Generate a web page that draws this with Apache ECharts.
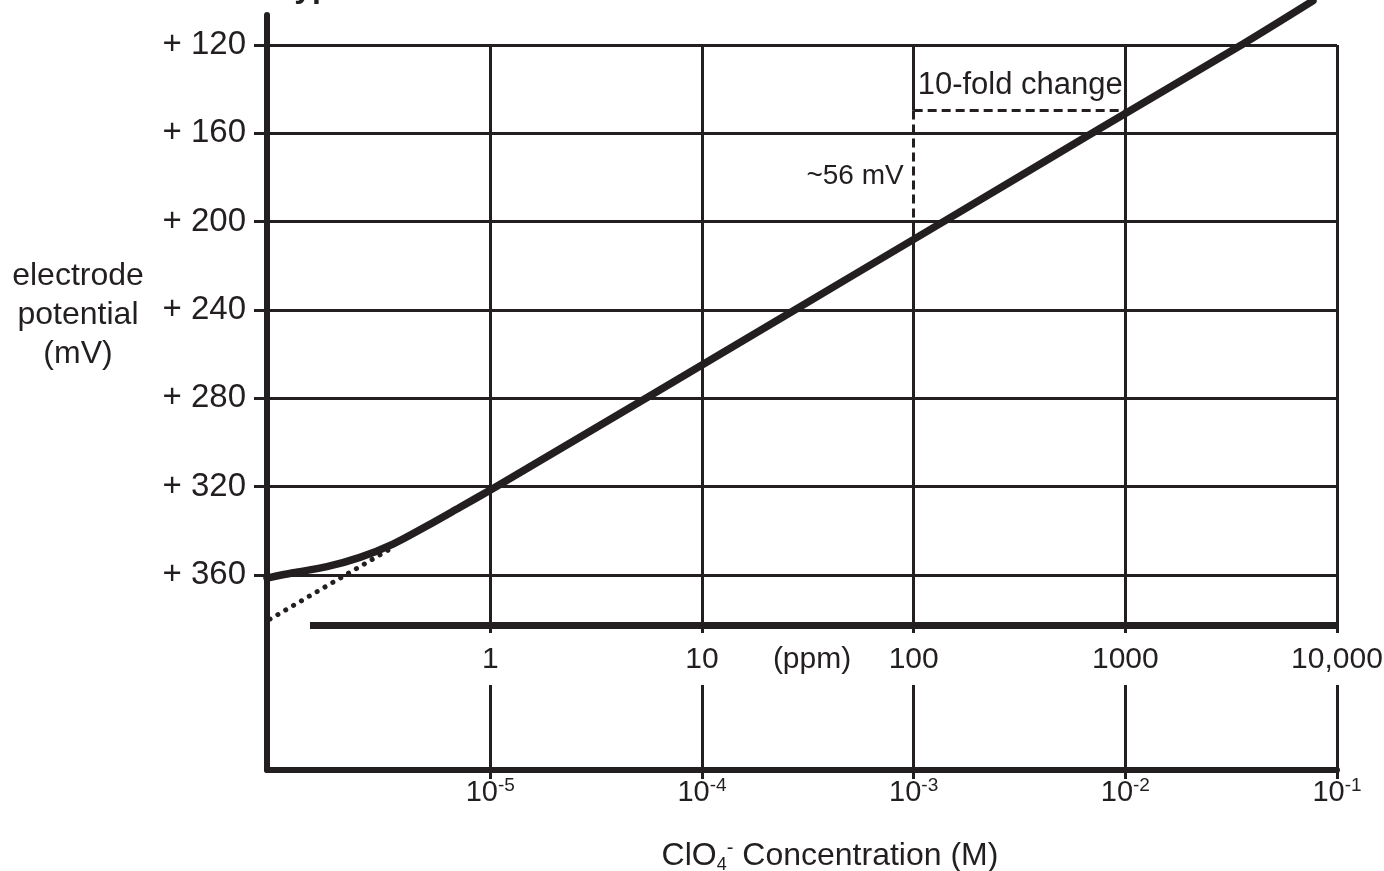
<!DOCTYPE html>
<html><head><meta charset="utf-8">
<script src="https://cdn.jsdelivr.net/npm/echarts@6/dist/echarts.min.js"></script>
<style>html,body{margin:0;padding:0;background:#fff}#c{width:1384px;height:871px}</style>
</head><body><div id="c"></div>
<script>
// ---- data (x = log10 of ClO4- molar concentration, y = electrode potential in mV) ----
const logConc     = [-6.055, -5.932, -5.772, -5.616, -5.460, -5.300, -5.143, -4.987, -4.827, -4.255, -3.570, -3.000, -2.120, -1.444, -1.114];
const potentialMV = [ 361.4,  359.0,  356.2,  352.0,  346.0,  337.8,  329.3,  320.8,  311.8,  279.4,  240.4,  208.0,  157.8,  119.5,  100.0];
const extrapLogConc = [-6.041, -5.47];
const extrapMV      = [380.0, 348.0];
const yTicks     = [120, 160, 200, 240, 280, 320, 360];
const decadeLogM = [-5, -4, -3, -2, -1];
const molarExp   = ['-5', '-4', '-3', '-2', '-1'];
const ppmLabels  = ['1', '10', '100', '1000', '10,000'];
const ppmUnitLabel = '(ppm)';
const ppmUnitLog = -3.48;
const foldStartLog = -3, foldEndLog = -2, foldMV = 149.6, slopeEndMV = 200;
const foldText = '10-fold change';
const slopeText = '~56 mV';

// ---- layout constants ----
const X_MIN = -6.055, X_MAX = -1, Y_MIN = 106.4, Y_MAX = 448.3;
const PPM_AXIS_MV = 382.6, PPM_AXIS_START = -5.852, GRID_TOP_END = 386.3, GRID_LOW_START = 409.8, PPM_LABEL_MV = 398.5;
const INK = '#231f20';
const FONT = '"Liberation Sans", Arial, Helvetica, sans-serif';

const curve = logConc.map((x, i) => [x, potentialMV[i]]);
const extrap = extrapLogConc.map((x, i) => [x, extrapMV[i]]);

const gridSegs = [];
yTicks.forEach(v => gridSegs.push({coords: [[X_MIN, v], [X_MAX, v]]}));
decadeLogM.forEach(x => {
  if (x === foldStartLog) {
    gridSegs.push({coords: [[x, yTicks[0]], [x, foldMV]]});
    gridSegs.push({coords: [[x, slopeEndMV], [x, GRID_TOP_END]]});
  } else {
    gridSegs.push({coords: [[x, yTicks[0]], [x, GRID_TOP_END]]});
  }
  gridSegs.push({coords: [[x, GRID_LOW_START], [x, Y_MAX]]});
});
const dashSegs = [
  {coords: [[foldStartLog, foldMV], [foldEndLog, foldMV]]},
  {coords: [[foldStartLog, foldMV], [foldStartLog, slopeEndMV]]}
];

const ppmPoints = decadeLogM.map((x, i) => ({value: [x, PPM_LABEL_MV], label: {formatter: ppmLabels[i]}}));
ppmPoints.push({value: [ppmUnitLog, PPM_LABEL_MV], label: {formatter: ppmUnitLabel}});

const chart = echarts.init(document.getElementById('c'), null, {renderer: 'canvas'});
chart.setOption({
  animation: false,
  backgroundColor: '#fff',
  textStyle: {fontFamily: FONT, color: INK},
  title: [
    {text: 'Typical Calibration Curve', left: 277, top: -28, padding: 0,
     textStyle: {fontFamily: FONT, fontSize: 32, fontWeight: 'bold', color: INK}},
    {text: 'electrode\npotential\n(mV)', left: 78, top: 257, padding: 0, textAlign: 'center',
     textStyle: {fontFamily: FONT, fontSize: 32, fontWeight: 'normal', color: INK, lineHeight: 39}},
    {text: 'ClO{sub|4}{sup|-} Concentration (M)', left: 830, top: 838, padding: 0, textAlign: 'center',
     textStyle: {fontFamily: FONT, fontSize: 32, fontWeight: 'normal', color: INK, lineHeight: 36,
       rich: {sub: {fontFamily: FONT, fontSize: 18, color: INK, lineHeight: 14, verticalAlign: 'bottom'},
              sup: {fontFamily: FONT, fontSize: 20, color: INK, lineHeight: 22, verticalAlign: 'top'}}}}
  ],
  grid: {left: 267, right: 47, top: 15, bottom: 101, containLabel: false},
  xAxis: {
    type: 'value', min: X_MIN, max: X_MAX,
    axisLine: {show: true, lineStyle: {color: INK, width: 6}},
    axisTick: {show: true, customValues: decadeLogM, length: 9, lineStyle: {color: INK, width: 3}},
    splitLine: {show: false},
    axisLabel: {
      show: true, customValues: decadeLogM, margin: 6,
      formatter: v => '{b|10}{sup|' + molarExp[decadeLogM.indexOf(Math.round(v))] + '}',
      rich: {b: {fontFamily: FONT, fontSize: 29, color: INK, lineHeight: 34},
             sup: {fontFamily: FONT, fontSize: 19, color: INK, lineHeight: 20, verticalAlign: 'top'}}
    }
  },
  yAxis: {
    type: 'value', inverse: true, min: Y_MIN, max: Y_MAX,
    axisLine: {show: true, lineStyle: {color: INK, width: 6}},
    axisTick: {show: true, customValues: yTicks, length: 13, lineStyle: {color: INK, width: 3}},
    splitLine: {show: false},
    axisLabel: {show: true, customValues: yTicks, margin: 21, fontFamily: FONT, fontSize: 33, color: INK,
      formatter: v => '+ ' + v}
  },
  series: [
    {type: 'lines', coordinateSystem: 'cartesian2d', silent: true, z: 1, data: gridSegs,
     lineStyle: {color: INK, width: 3, opacity: 1}},
    {type: 'lines', coordinateSystem: 'cartesian2d', silent: true, z: 2, data: dashSegs,
     lineStyle: {color: INK, width: 3, opacity: 1, type: [9, 5]}},
    {type: 'lines', coordinateSystem: 'cartesian2d', silent: true, z: 2,
     data: [{coords: [[PPM_AXIS_START, PPM_AXIS_MV], [X_MAX, PPM_AXIS_MV]]}],
     lineStyle: {color: INK, width: 7, opacity: 1}},
    {type: 'line', data: extrap, showSymbol: false, silent: true, z: 3, clip: false,
     lineStyle: {color: INK, width: 5, type: [0.1, 9], cap: 'round'}},
    {type: 'line', data: curve, showSymbol: false, silent: true, z: 4, clip: false, smooth: 0.3,
     lineStyle: {color: INK, width: 7.5, cap: 'round'}},
    {type: 'scatter', data: ppmPoints, symbolSize: 0, silent: true, z: 5, itemStyle: {opacity: 1},
     label: {show: true, position: 'inside', fontFamily: FONT, fontSize: 30, color: INK, opacity: 1}},
    {type: 'scatter', symbolSize: 0, silent: true, z: 5, itemStyle: {opacity: 1},
     data: [
       {value: [foldStartLog, 138.1], label: {show: true, position: 'right', distance: 4, formatter: foldText, fontFamily: FONT, fontSize: 31, color: INK, opacity: 1}},
       {value: [foldStartLog, 179.3], label: {show: true, position: 'left', distance: 10, formatter: slopeText, fontFamily: FONT, fontSize: 28, color: INK, opacity: 1}}
     ]}
  ]
});
</script></body></html>
